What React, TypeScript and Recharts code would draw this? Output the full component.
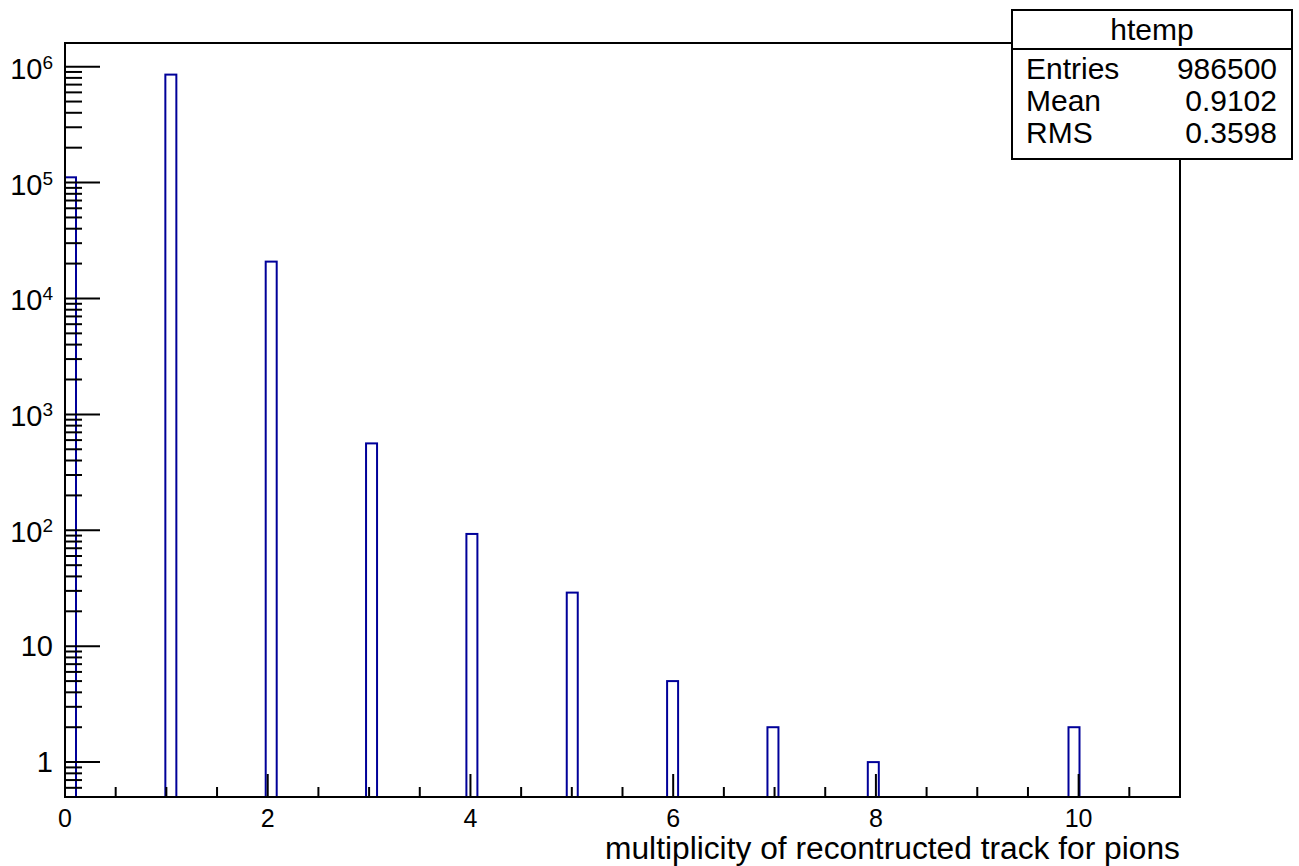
import React from "react";
import { ComposedChart, Bar, XAxis, YAxis, ReferenceArea } from "recharts";

// histogram binning (ROOT htemp: 100 bins on [0, 11])
const nBins = 100;
const xMin = 0;
const xMax = 11;

// filled bins: multiplicity value -> entries
const multiplicity = [0, 1, 2, 3, 4, 5, 6, 7, 8, 10];
const entries = [111000, 854000, 20800, 562, 93, 29, 5, 2, 1, 2];

const xTicks = [0, 0.5, 1, 1.5, 2, 2.5, 3, 3.5, 4, 4.5, 5, 5.5, 6, 6.5, 7, 7.5, 8, 8.5, 9, 9.5, 10, 10.5, 11];
const xLabels = [0, 2, 4, 6, 8, 10];
const yDecades = [1, 10, 100, 1000, 10000, 100000, 1000000];
const yMinorBelow = [0.6, 0.7, 0.8, 0.9];
const yDomain = [0.5, 1.6e6];

const statsTitle = "htemp";
const statsLabels = ["Entries", "Mean", "RMS"];
const statsValues = ["986500", "0.9102", "0.3598"];

const xTitle = "multiplicity of recontructed track for pions";

const FONT = '"Liberation Sans", Arial, Helvetica, sans-serif';
const LINE = "#000099";

const binWidth = (xMax - xMin) / nBins;
const bins = Array.from({ length: nBins }, (_, i) => ({
  center: xMin + (i + 0.5) * binWidth,
  count: null as number | null,
}));
multiplicity.forEach((m, k) => {
  bins[Math.floor((m - xMin) / binWidth)].count = entries[k];
});

const yTicks = [
  ...yMinorBelow,
  ...yDecades.flatMap((d) => [1, 2, 3, 4, 5, 6, 7, 8, 9].map((f) => f * d)),
].filter((v) => v <= yDomain[1]);

const BinShape = (props: any) => {
  const { x, y, width, height, payload } = props;
  if (payload == null || payload.count == null) return null;
  if (![x, y, width, height].every((n) => Number.isFinite(n))) return null;
  return (
    <rect x={x} y={y} width={width} height={height} fill="none" stroke={LINE} strokeWidth={2} />
  );
};

const XTick = (props: any) => {
  const { x, y, payload } = props;
  const v = payload.value;
  const major = xLabels.includes(v);
  return (
    <g>
      <line x1={x} x2={x} y1={y} y2={y - (major ? 23 : 10)} stroke="#000" strokeWidth={2} />
      {major && (
        <text x={x} y={y + 30} textAnchor="middle" fontSize={25} fontFamily={FONT} fill="#000">
          {v}
        </text>
      )}
    </g>
  );
};

const YTick = (props: any) => {
  const { x, y, payload } = props;
  const v = payload.value;
  const k = yDecades.indexOf(v);
  return (
    <g>
      <line x1={x} x2={x + (k >= 0 ? 35 : 17)} y1={y} y2={y} stroke="#000" strokeWidth={2} />
      {k >= 0 && (
        <text
          x={x - 12}
          y={y + (k < 2 ? 10 : 12)}
          textAnchor="end"
          fontSize={29}
          fontFamily={FONT}
          fill="#000"
        >
          {k < 2 ? (
            String(v)
          ) : (
            <>
              10
              <tspan fontSize={19} dy={-10}>
                {k}
              </tspan>
            </>
          )}
        </text>
      )}
    </g>
  );
};

const XTitle = (props: any) => {
  const { viewBox } = props;
  return (
    <text
      x={viewBox.x + viewBox.width}
      y={viewBox.y + 62}
      textAnchor="end"
      fontSize={31}
      textLength={575}
      lengthAdjust="spacingAndGlyphs"
      fontFamily={FONT}
      fill="#000"
    >
      {xTitle}
    </text>
  );
};

export default function App() {
  return (
    <div style={{ position: "absolute", left: 0, top: 0, width: 1299, height: 866, background: "#fff" }}>
      <ComposedChart
        width={1299}
        height={866}
        data={bins}
        margin={{ top: 43, right: 119, bottom: 0, left: 0 }}
        barCategoryGap={0}
        barGap={0}
      >
        <XAxis
          dataKey="center"
          type="number"
          domain={[xMin, xMax]}
          allowDataOverflow
          ticks={xTicks}
          interval={0}
          height={69}
          tickSize={0}
          tickMargin={0}
          tickLine={false}
          tick={<XTick />}
          axisLine={{ stroke: "#000", strokeWidth: 2 }}
          label={<XTitle />}
        />
        <YAxis
          scale="log"
          type="number"
          domain={yDomain}
          allowDataOverflow
          ticks={yTicks}
          interval={0}
          width={65}
          tickSize={0}
          tickMargin={0}
          tickLine={false}
          tick={<YTick />}
          axisLine={{ stroke: "#000", strokeWidth: 2 }}
        />
        <ReferenceArea
          x1={xMin}
          x2={xMax}
          y1={yDomain[0]}
          y2={yDomain[1]}
          fill="none"
          fillOpacity={0}
          stroke="#000"
          strokeWidth={2}
          ifOverflow="visible"
        />
        <Bar dataKey="count" shape={<BinShape />} isAnimationActive={false} />
      </ComposedChart>

      <div
        style={{
          position: "absolute",
          left: 1011,
          top: 9,
          width: 282,
          height: 151,
          boxSizing: "border-box",
          border: "2px solid #000",
          background: "#fff",
          fontFamily: FONT,
          fontSize: 30,
          color: "#000",
        }}
      >
        <div
          style={{
            height: 37,
            borderBottom: "2px solid #000",
            textAlign: "center",
            lineHeight: "37px",
          }}
        >
          {statsTitle}
        </div>
        <div style={{ paddingTop: 3 }}>
          {statsLabels.map((l, i) => (
            <div
              key={l}
              style={{
                display: "flex",
                justifyContent: "space-between",
                height: 32,
                lineHeight: "32px",
                padding: "0 14px 0 13px",
              }}
            >
              <span>{l}</span>
              <span>{statsValues[i]}</span>
            </div>
          ))}
        </div>
      </div>
    </div>
  );
}
